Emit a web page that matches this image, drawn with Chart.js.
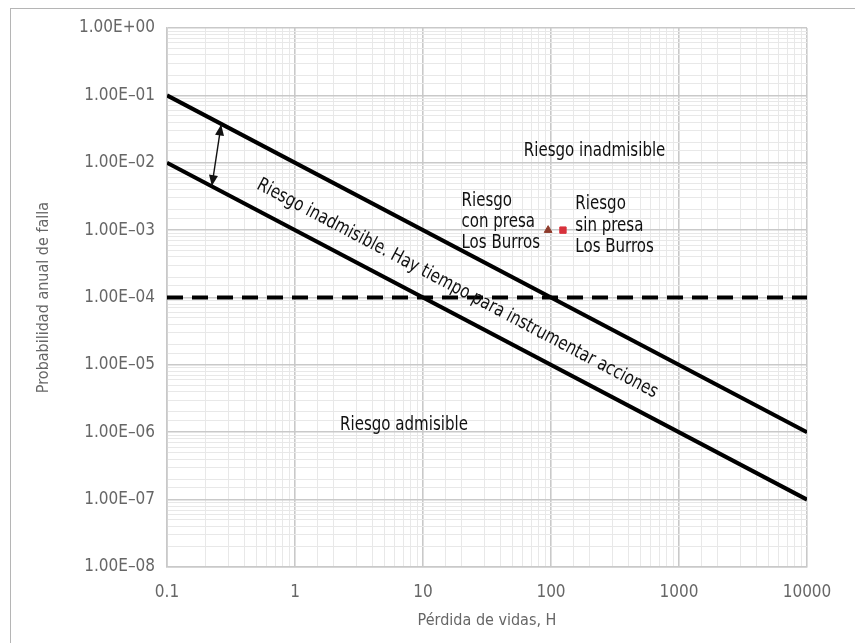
<!DOCTYPE html>
<html>
<head>
<meta charset="utf-8">
<script src="https://cdn.jsdelivr.net/npm/chart.js@4.4.1/dist/chart.umd.min.js"></script>
<style>
  html, body { margin: 0; padding: 0; background: #fff; }
  #wrap { position: relative; width: 855px; height: 643px; overflow: hidden; }
  #frame { position: absolute; left: 10px; top: 8px; width: 900px; height: 700px;
           border-left: 1px solid #b5b5b5; border-top: 1px solid #b5b5b5; }
  canvas { position: absolute; left: 0; top: 0; }
</style>
</head>
<body>
<div id="wrap">
  <div id="frame"></div>
  <canvas id="chart" width="855" height="643"></canvas>
</div>
<script>
'use strict';

// ***** DATA *****
const lineX = [0.1, 10000];
const upperLimit = [1e-1, 1e-6];
const lowerLimit = [1e-2, 1e-7];
const tolerableLimit = [1e-4, 1e-4];

const pointNames = ['Riesgo con presa Los Burros', 'Riesgo sin presa Los Burros'];
const pointX = [95, 124];
const pointY = [1e-3, 1e-3];

const xTickLabels = ['0.1', '1', '10', '100', '1000', '10000'];
const yTickLabels = ['1.00E+00', '1.00E\u201301', '1.00E\u201302', '1.00E\u201303', '1.00E\u201304',
  '1.00E\u201305', '1.00E\u201306', '1.00E\u201307', '1.00E\u201308'];

// ***** ANNOTATIONS (data coordinates) *****
const textFont = '19px "DejaVu Sans Condensed", "Liberation Sans", sans-serif';
const textSqueeze = 0.88;   // horizontal squeeze to mimic a condensed face
const axisFont = '"DejaVu Sans Condensed", "Liberation Sans", sans-serif';

const zoneLabels = [
  { text: 'Riesgo inadmisible', x: 219, y: 0.0148 },
  { text: 'Riesgo admisible', x: 7.1, y: 1.29e-6 }
];
const pointLabels = [
  { lines: ['Riesgo', 'con presa', 'Los Burros'], x: 20, y: 1e-3, dy: [-29, -8, 13] },
  { lines: ['Riesgo', 'sin presa', 'Los Burros'], x: 155, y: 1e-3, dy: [-26, -4, 17] }
];
const bandLabel = { text: 'Riesgo inadmisible. Hay tiempo para instrumentar acciones', x: 18.5, y: 1.35e-4 };
const arrowFrom = [0.265, 0.037];
const arrowTo = [0.224, 0.0045];

// ***** HELPERS *****
function exponentOf(value) {
  const lg = Math.log10(value);
  const e = Math.round(lg);
  return Math.abs(lg - e) < 1e-6 ? e : null;
}

function gridColor(ctx) {
  if (!ctx.tick) return '#e6e6e6';
  return exponentOf(ctx.tick.value) !== null ? '#c9c9c9' : '#e8e8e8';
}

function gridWidth(ctx) {
  if (!ctx.tick) return 1;
  return exponentOf(ctx.tick.value) !== null ? 1.6 : 1;
}

function arrowHead(ctx, x1, y1, x2, y2) {
  const ang = Math.atan2(y2 - y1, x2 - x1);
  const len = 11, half = 4.5;
  ctx.beginPath();
  ctx.moveTo(x2, y2);
  ctx.lineTo(x2 - len * Math.cos(ang) + half * Math.sin(ang), y2 - len * Math.sin(ang) - half * Math.cos(ang));
  ctx.lineTo(x2 - len * Math.cos(ang) - half * Math.sin(ang), y2 - len * Math.sin(ang) + half * Math.cos(ang));
  ctx.closePath();
  ctx.fill();
}

function squeezedText(ctx, text, px, py, align) {
  ctx.save();
  ctx.translate(px, py);
  ctx.scale(textSqueeze, 1);
  ctx.textAlign = align;
  ctx.fillText(text, 0, 0);
  ctx.restore();
}

const annotationPlugin = {
  id: 'annotations',
  afterDatasetsDraw(chart) {
    const { ctx, scales: { x, y } } = chart;
    ctx.save();
    ctx.fillStyle = '#111';
    ctx.strokeStyle = '#111';
    ctx.font = textFont;

    // double arrow between the two limit lines
    const ax1 = x.getPixelForValue(arrowFrom[0]), ay1 = y.getPixelForValue(arrowFrom[1]);
    const ax2 = x.getPixelForValue(arrowTo[0]), ay2 = y.getPixelForValue(arrowTo[1]);
    ctx.lineWidth = 1.4;
    ctx.beginPath();
    ctx.moveTo(ax1, ay1);
    ctx.lineTo(ax2, ay2);
    ctx.stroke();
    arrowHead(ctx, ax2, ay2, ax1, ay1);
    arrowHead(ctx, ax1, ay1, ax2, ay2);

    ctx.textBaseline = 'middle';
    zoneLabels.forEach(l => {
      squeezedText(ctx, l.text, x.getPixelForValue(l.x), y.getPixelForValue(l.y), 'center');
    });

    pointLabels.forEach(l => {
      const px = x.getPixelForValue(l.x), py = y.getPixelForValue(l.y);
      l.lines.forEach((t, i) => squeezedText(ctx, t, px, py + l.dy[i], 'left'));
    });

    // label along the band, rotated with the slope of the limit lines
    const angle = Math.atan2(
      y.getPixelForValue(lowerLimit[1]) - y.getPixelForValue(lowerLimit[0]),
      x.getPixelForValue(lineX[1]) - x.getPixelForValue(lineX[0]));
    ctx.translate(x.getPixelForValue(bandLabel.x), y.getPixelForValue(bandLabel.y));
    ctx.rotate(angle);
    ctx.scale(textSqueeze, 1);
    ctx.textAlign = 'center';
    ctx.fillText(bandLabel.text, 0, 0);
    ctx.restore();
  }
};

// ***** CHART *****
const toPoints = (xs, ys) => xs.map((v, i) => ({ x: v, y: ys[i] }));

new Chart(document.getElementById('chart'), {
  type: 'scatter',
  data: {
    datasets: [
      {
        label: 'Límite superior',
        data: toPoints(lineX, upperLimit),
        showLine: true,
        borderColor: '#000',
        borderWidth: 4,
        pointRadius: 0
      },
      {
        label: 'Límite inferior',
        data: toPoints(lineX, lowerLimit),
        showLine: true,
        borderColor: '#000',
        borderWidth: 4,
        pointRadius: 0
      },
      {
        label: 'Límite tolerable',
        data: toPoints(lineX, tolerableLimit),
        showLine: true,
        borderColor: '#000',
        borderWidth: 4,
        borderDash: [16, 9],
        pointRadius: 0
      },
      {
        label: pointNames[0],
        data: [{ x: pointX[0], y: pointY[0] }],
        pointStyle: 'triangle',
        pointRadius: 4.5,
        backgroundColor: '#8e3b2b',
        borderColor: '#8e3b2b'
      },
      {
        label: pointNames[1],
        data: [{ x: pointX[1], y: pointY[1] }],
        pointStyle: 'rect',
        pointRadius: 4.5,
        backgroundColor: '#d8323c',
        borderColor: '#d8323c'
      }
    ]
  },
  options: {
    responsive: false,
    animation: false,
    layout: { padding: { left: 30, right: 48, top: 28, bottom: 4 } },
    plugins: {
      legend: { display: false },
      tooltip: { enabled: false }
    },
    scales: {
      x: {
        type: 'logarithmic',
        min: 0.1,
        max: 10000,
        afterFit: s => { s.height = 72; },
        grid: { color: gridColor, lineWidth: gridWidth, drawTicks: false },
        border: { color: '#c9c9c9', width: 1.6 },
        ticks: {
          autoSkip: false,
          maxRotation: 0,
          padding: 15,
          color: '#666',
          font: { family: axisFont, size: 17 },
          callback: v => {
            const e = exponentOf(v);
            return e === null ? '' : xTickLabels[e + 1];
          }
        },
        title: {
          display: true,
          text: 'Pérdida de vidas, H',
          color: '#666',
          font: { family: axisFont, size: 16 },
          padding: { top: 0, bottom: 9 }
        }
      },
      y: {
        type: 'logarithmic',
        min: 1e-8,
        max: 1,
        afterFit: s => { s.width = 137; },
        grid: { color: gridColor, lineWidth: gridWidth, drawTicks: false },
        border: { color: '#c9c9c9', width: 1.6 },
        ticks: {
          autoSkip: false,
          padding: 12,
          color: '#666',
          font: { family: axisFont, size: 17 },
          callback: v => {
            const e = exponentOf(v);
            return e === null ? '' : yTickLabels[-e];
          }
        },
        title: {
          display: true,
          text: 'Probabilidad anual de falla',
          color: '#666',
          font: { family: axisFont, size: 16 },
          padding: { top: 4, bottom: 0 }
        }
      }
    }
  },
  plugins: [annotationPlugin]
});
</script>
</body>
</html>
